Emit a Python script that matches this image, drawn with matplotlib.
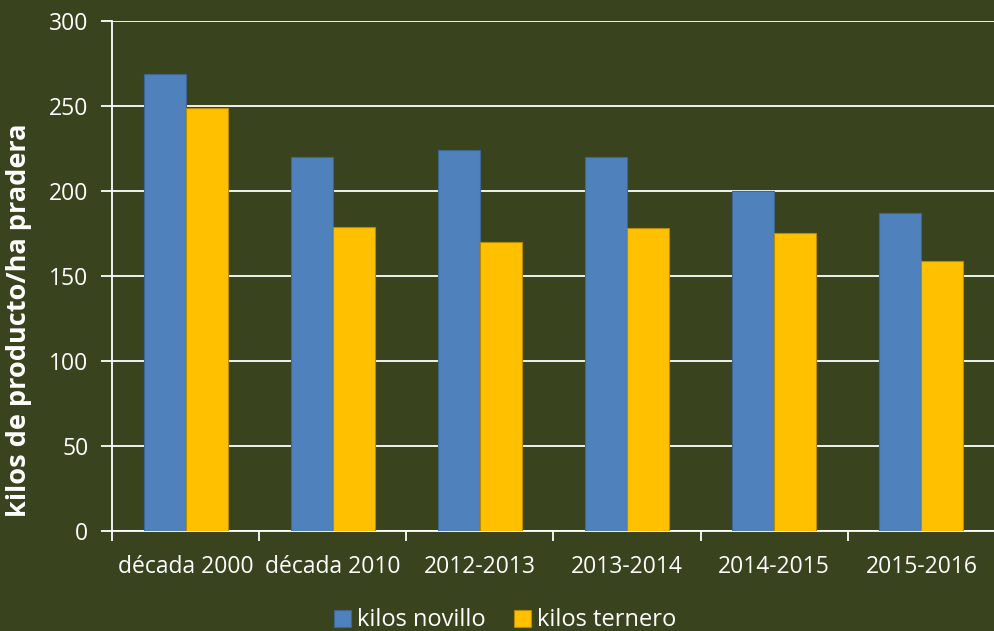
import numpy as np
import matplotlib.pyplot as plt

categorias = ['década 2000', 'década 2010', '2012-2013', '2013-2014', '2014-2015', '2015-2016']
kilos_novillo = [269, 220, 224, 220, 200, 187]
kilos_ternero = [249, 179, 170, 178, 175, 159]

bg = '#39441e'
plt.rcParams['font.family'] = ['Open Sans', 'DejaVu Sans']

fig = plt.figure(figsize=(9.95, 6.31), dpi=100, facecolor=bg)
ax = fig.add_axes([112 / 995, 1 - 531 / 631, 1 - 112 / 995, 510 / 631], facecolor=bg)

x = np.arange(len(categorias))
w = 0.285
ax.bar(x - w / 2, kilos_novillo, w, color='#4f81bd', edgecolor='#3e6690', linewidth=0.8,
       label='kilos novillo', zorder=3)
ax.bar(x + w / 2, kilos_ternero, w, color='#ffc000', edgecolor='#b98c00', linewidth=0.8,
       label='kilos ternero', zorder=3)

ax.set_xlim(-0.5, len(categorias) - 0.5)
ax.set_ylim(0, 300)
ax.set_yticks(range(0, 301, 50))
ax.grid(axis='y', color='white', linewidth=1.3, zorder=1)
ax.set_axisbelow(True)

# category boundary ticks
ax.set_xticks(np.arange(-0.5, len(categorias)), minor=False)
ax.set_xticklabels([])
ax.set_xticks(x, minor=True)
ax.set_xticklabels(categorias, minor=True)
ax.tick_params(axis='x', which='major', length=7, color='white', width=1.3)
ax.tick_params(axis='x', which='minor', length=0, pad=17, labelsize=16.5, labelcolor='white')
ax.tick_params(axis='y', length=8, color='white', width=1.3, labelsize=16.5, labelcolor='white', pad=9)

for s in ['top', 'right']:
    ax.spines[s].set_visible(False)
for s in ['left', 'bottom']:
    ax.spines[s].set_color('white')
    ax.spines[s].set_linewidth(1.3)

ax.set_ylabel('kilos de producto/ha pradera', color='white', fontsize=19.5, fontweight='bold')
ax.yaxis.set_label_coords(-0.091, 0.414)

leg = fig.legend(loc='lower center', bbox_to_anchor=(0.508, -0.036), ncol=2, frameon=False,
                 fontsize=17, labelcolor='white', handlelength=0.72, handleheight=0.72,
                 handletextpad=0.25, columnspacing=1.2)

fig.savefig('out.png', dpi=100, facecolor=bg)
